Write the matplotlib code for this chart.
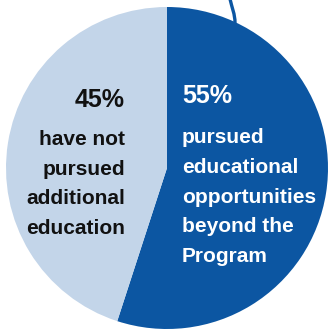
import matplotlib
matplotlib.use("Agg")
import matplotlib.pyplot as plt
from matplotlib.path import Path
from matplotlib.patches import PathPatch

# Share of participants
shares = [55, 45]
pct_labels = ["55%", "45%"]
desc_lines = [
    ["pursued", "educational", "opportunities", "beyond the", "Program"],
    ["have not", "pursued", "additional", "education"],
]
colors = ["#0c56a2", "#c3d5e9"]

W, H = 328, 330
fig = plt.figure(figsize=(W / 100, H / 100), dpi=100)
ax = fig.add_axes([0, 0, 1, 1])
plt.rcParams["font.family"] = ["Liberation Sans", "DejaVu Sans"]


def py(y):
    return H - y


ax.pie(shares, colors=colors, startangle=90, counterclock=False,
       center=(167, py(168)), radius=161,
       wedgeprops=dict(linewidth=0))

# connector line entering from the top
verts = [(230, py(-1)), (232, py(8)), (235, py(14)), (235, py(23))]
ax.add_patch(PathPatch(Path(verts, [Path.MOVETO, Path.CURVE4, Path.CURVE4, Path.CURVE4]),
                       fill=False, edgecolor=colors[0], linewidth=2.4, capstyle="butt"))

# right slice labels (white, left aligned)
ax.text(182, py(103), pct_labels[0], color="white", fontsize=18, fontweight="bold",
        ha="left", va="baseline")
for i, line in enumerate(desc_lines[0]):
    ax.text(182, py(143 + 29.8 * i), line, color="white", fontsize=15,
            fontweight="bold", ha="left", va="baseline")

# left slice labels (black, right aligned)
ax.text(125, py(107), pct_labels[1], color="#111111", fontsize=18, fontweight="bold",
        ha="right", va="baseline")
for i, line in enumerate(desc_lines[1]):
    ax.text(125, py(145 + 29.7 * i), line, color="#111111", fontsize=15,
            fontweight="bold", ha="right", va="baseline")

ax.set_xlim(0, W)
ax.set_ylim(0, H)
ax.set_aspect("auto")
ax.axis("off")
fig.savefig("out.png", dpi=100)
